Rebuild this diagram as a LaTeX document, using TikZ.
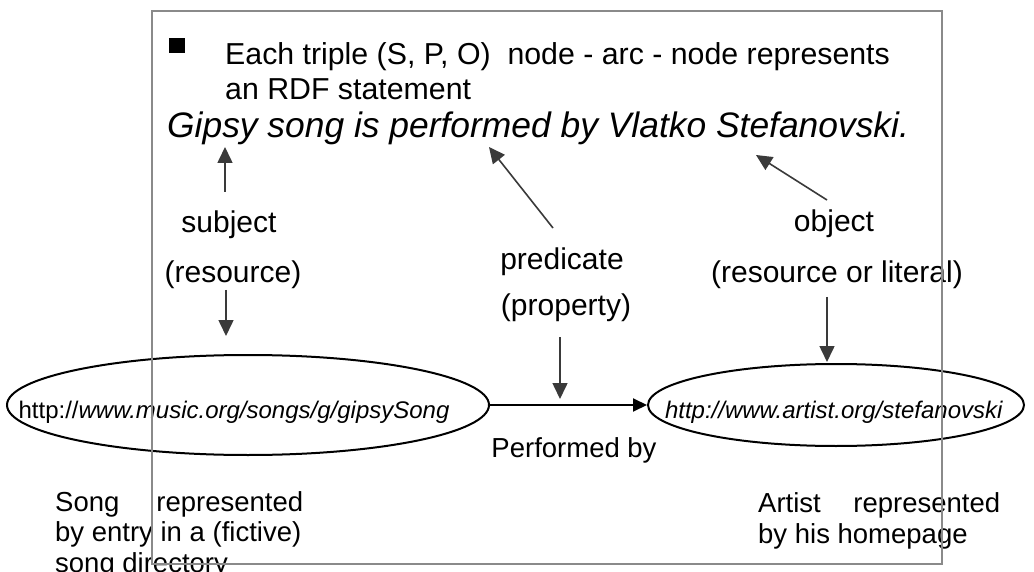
\documentclass[tikz,border=0pt]{standalone}
\usepackage{fontspec}
\setmainfont{Liberation Sans}
\usetikzlibrary{arrows.meta,shapes.geometric}
\definecolor{framegray}{HTML}{8A8A8A}
\definecolor{arrowgray}{HTML}{3A3A3A}
\begin{document}
\begin{tikzpicture}[x=1pt,y=-1pt,
  lbl/.style={inner sep=0pt, anchor=base, font=\fontsize{30}{35}\selectfont},
  smalllbl/.style={inner sep=0pt, font=\fontsize{27.5}{30.5}\selectfont},
  uri/.style={inner sep=0pt, anchor=base, font=\fontsize{24}{28}\selectfont},
  resnode/.style={ellipse, draw=black, line width=2pt, inner sep=0pt},
  ptr/.style={draw=arrowgray, line width=1.6pt, -{Triangle[length=16pt,width=15pt]}, arrowgray},
  arc/.style={draw=black, line width=2pt, -{Triangle[length=14pt,width=13pt]}}
]
\useasboundingbox (0,0) rectangle (1034,572);
\fill[white] (0,0) rectangle (1034,572);

% header
\node[fill=black, minimum width=16pt, minimum height=15pt, inner sep=0pt, anchor=north west] (bullet) at (169,38) {};
\node[lbl, anchor=base west, font=\fontsize{30.3}{35}\selectfont] (line1) at (225,65) {Each triple (S, P, O)\ \ node - arc - node represents};
\node[lbl, anchor=base west, font=\fontsize{30.3}{35}\selectfont] (line2) at (225,100) {an RDF statement};
\node[inner sep=0pt, anchor=base west, font=\fontsize{35.4}{40}\selectfont\itshape] (sent) at (167,138) {Gipsy song is performed by Vlatko Stefanovski.};

% role labels
\node[lbl] (subj) at (229,233) {subject};
\node[lbl] (subjres) at (233,283) {(resource)};
\node[lbl] (pred) at (562,270) {predicate};
\node[lbl] (predprop) at (566,316) {(property)};
\node[lbl] (obj) at (834,232) {object};
\node[lbl] (objres) at (837,283) {(resource or literal)};

% resources
\node[resnode, minimum width=482pt, minimum height=100pt] (e1) at (248,405) {};
\node[resnode, minimum width=376pt, minimum height=82pt] (e2) at (836,405) {};
\node[uri] (e1text) at (234,418) {http://\textit{www.music.org/songs/g/gipsySong}};
\node[uri] (e2text) at (834,418) {\textit{http://www.artist.org/stefanovski}};

\draw[arc] (e1.east) -- (e2.west);
\node[smalllbl, anchor=base] (perf) at (574,457) {Performed by};

% descriptions (base anchor of a multi-line node lies below its last line)
\node[smalllbl, anchor=base west, align=left] (songdesc) at (55,572)
  {\makebox[248pt][s]{Song represented}\\by entry in a (fictive)\\song directory};
\node[smalllbl, anchor=base west, align=left] (artdesc) at (758,543)
  {\makebox[242pt][s]{Artist represented}\\by his homepage};

% pointer arrows
\coordinate (a1s) at (225,192); \coordinate (a1e) at (225,147);
\coordinate (a2s) at (553,228); \coordinate (a2e) at (489,147);
\coordinate (a3s) at (827,200); \coordinate (a3e) at (756,155);
\coordinate (a4s) at (226,290); \coordinate (a4e) at (226,336);
\coordinate (a5s) at (560,337); \coordinate (a5e) at (560,399);
\coordinate (a6s) at (827,297); \coordinate (a6e) at (827,362);
\draw[ptr] (a1s) -- (a1e);
\draw[ptr] (a2s) -- (a2e);
\draw[ptr] (a3s) -- (a3e);
\draw[ptr] (a4s) -- (a4e);
\draw[ptr] (a5s) -- (a5e);
\draw[ptr] (a6s) -- (a6e);

% frame
\draw[framegray, line width=1.5pt] (152,11) rectangle (942,564);
\end{tikzpicture}
\end{document}
